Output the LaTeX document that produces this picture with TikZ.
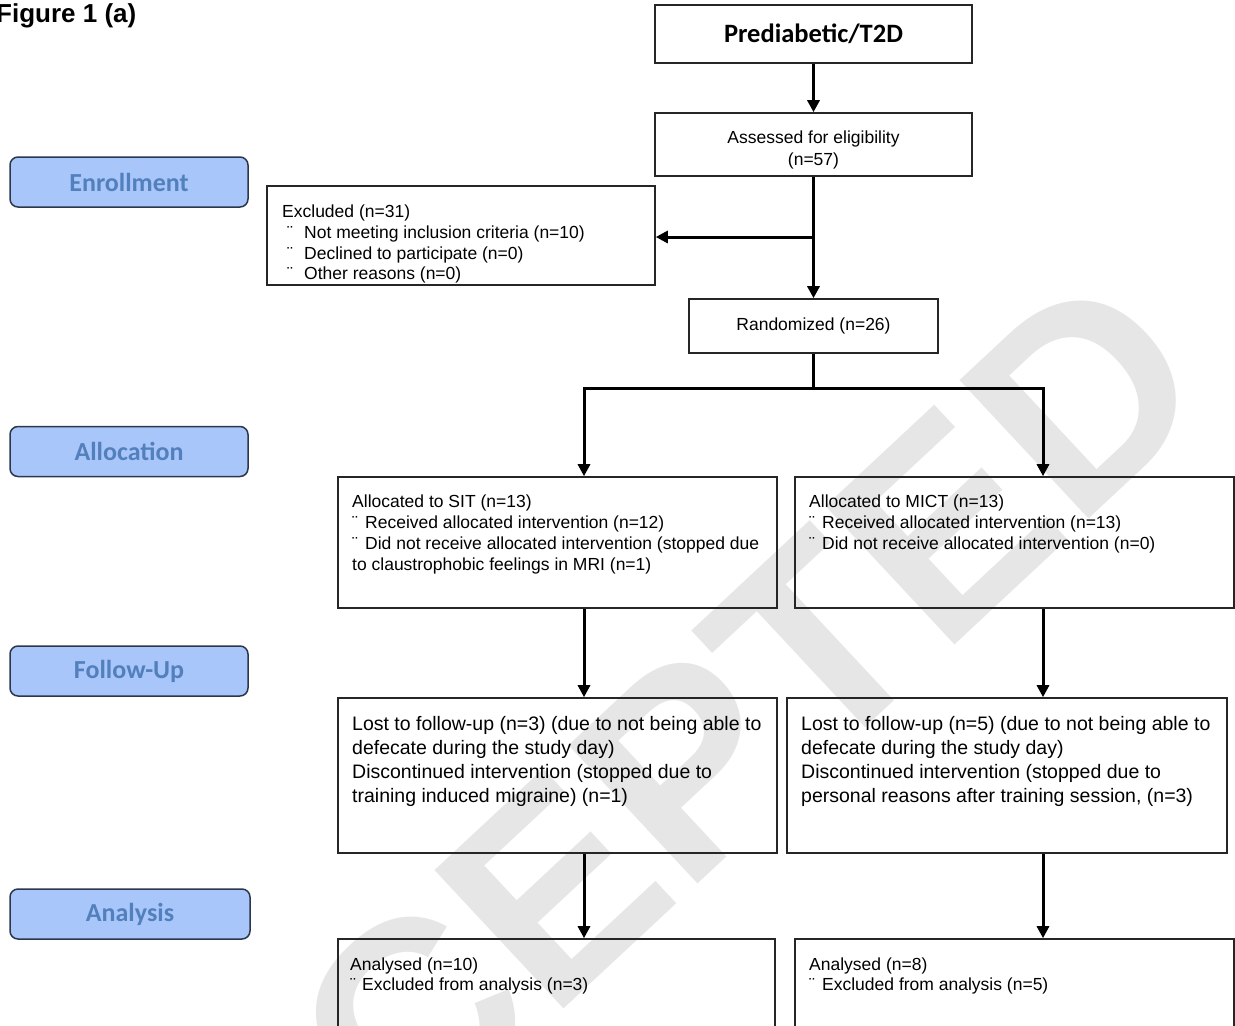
\documentclass[tikz,border=0pt]{standalone}
\usepackage{fontspec}
\setmainfont{Liberation Sans}
\newfontfamily\calib{Carlito}
\usetikzlibrary{arrows.meta}
\definecolor{lblfill}{RGB}{168,198,250}
\definecolor{lbltext}{RGB}{82,128,188}
\definecolor{lbldraw}{RGB}{45,55,75}
\definecolor{wmgray}{RGB}{230,230,230}
\begin{document}
\begin{tikzpicture}[x=1pt,y=-1pt,
  box/.style={draw=black!85, line width=1.6pt, inner sep=0pt},
  lbl/.style={draw=lbldraw, line width=1.5pt, fill=lblfill, rounded corners=8pt, minimum width=238pt, minimum height=50pt, font=\calib\bfseries\fontsize{26}{30}\selectfont, text=lbltext, inner sep=0pt},
  body/.style={font=\fontsize{17.5}{21}\selectfont, align=left, inner sep=0pt, anchor=north west},
  bigbody/.style={body, font=\fontsize{19.5}{24}\selectfont},
  arr/.style={line width=3pt, -{Triangle[length=12pt,width=12pt]}},
  ln/.style={line width=3pt},
  wmark/.style={font=\bfseries\fontsize{275}{275}\selectfont, text=wmgray, rotate=43, inner sep=0pt}
]
\useasboundingbox (0,0) rectangle (1235,1026);
\clip (0,0) rectangle (1235,1026);
\fill[white] (0,0) rectangle (1235,1026);
\node[wmark] (wmk) at (603,843) {ACCEPTED};

\node[anchor=base west, font=\bfseries\fontsize{26}{30}\selectfont, inner sep=0pt] (fig) at (-4,22) {Figure 1 (a)};

% main boxes
\node[box, minimum width=317pt, minimum height=58pt, font=\calib\bfseries\fontsize{26.5}{30}\selectfont] (pre) at (813.5,34) {Prediabetic/T2D};
\node[box, minimum width=317pt, minimum height=63pt] (ass) at (813.5,144.5) {};
\node[body, align=center, anchor=north, font=\fontsize{17.5}{22}\selectfont] (assT) at (813.5,131) {Assessed for eligibility\\(n=57)};

\node[box, minimum width=388pt, minimum height=99pt] (exc) at (461,235.5) {};
\node[body, font=\fontsize{17.5}{20.7}\selectfont] (excT) at (282,205) {Excluded (n=31)\\\hspace*{5pt}\makebox[17pt][l]{¨}Not meeting inclusion criteria (n=10)\\\hspace*{5pt}\makebox[17pt][l]{¨}Declined to participate (n=0)\\\hspace*{5pt}\makebox[17pt][l]{¨}Other reasons (n=0)};

\node[box, minimum width=249pt, minimum height=54pt, font=\fontsize{17.5}{21}\selectfont] (rnd) at (813.5,326) {Randomized (n=26)};

\node[box, minimum width=439pt, minimum height=131pt] (sit) at (557.5,542.5) {};
\node[body] (sitT) at (352,495) {Allocated to SIT (n=13)\\\makebox[13pt][l]{¨}Received allocated intervention (n=12)\\\makebox[13pt][l]{¨}Did not receive allocated intervention (stopped due\\to claustrophobic feelings in MRI (n=1)};

\node[box, minimum width=439pt, minimum height=131pt] (mict) at (1014.5,542.5) {};
\node[body] (mictT) at (809,495) {Allocated to MICT (n=13)\\\makebox[13pt][l]{¨}Received allocated intervention (n=13)\\\makebox[13pt][l]{¨}Did not receive allocated intervention (n=0)};

\node[box, minimum width=439pt, minimum height=155pt] (fl) at (557.5,775.5) {};
\node[bigbody] (flT) at (352,716) {Lost to follow-up (n=3) (due to not being able to\\defecate during the study day)\\Discontinued intervention (stopped due to\\training induced migraine) (n=1)};

\node[box, minimum width=440pt, minimum height=155pt] (fr) at (1007,775.5) {};
\node[bigbody] (frT) at (801,716) {Lost to follow-up (n=5) (due to not being able to\\defecate during the study day)\\Discontinued intervention (stopped due to\\personal reasons after training session, (n=3)};

\node[box, minimum width=437pt, minimum height=120pt] (al) at (556.5,999) {};
\node[body, font=\fontsize{17.5}{20}\selectfont] (alT) at (350,958) {Analysed (n=10)\\\makebox[12pt][l]{¨}Excluded from analysis (n=3)};

\node[box, minimum width=439pt, minimum height=120pt] (ar) at (1014.5,999) {};
\node[body, font=\fontsize{17.5}{20}\selectfont] (arT) at (809,958) {Analysed (n=8)\\\makebox[13pt][l]{¨}Excluded from analysis (n=5)};

% stage labels
\node[lbl] (enr) at (129,182) {Enrollment};
\node[lbl] (allo) at (129,451.5) {Allocation};
\node[lbl] (fup) at (129,671) {Follow-Up};
\node[lbl, minimum width=240pt] (ana) at (130,914) {Analysis};

% connectors
\coordinate (br1) at (813.5,237);
\coordinate (br2) at (813.5,388);
\coordinate (lx) at (584,388);
\coordinate (rx) at (1043,388);
\draw[arr] (pre.south) -- (ass.north);
\draw[arr] (ass.south) -- (rnd.north);
\draw[arr] (br1) -- (br1 -| exc.east);
\draw[ln] (rnd.south) -- (br2);
\draw[arr] (br2) -- (lx) -- (lx |- sit.north);
\draw[arr] (br2) -- (rx) -- (rx |- mict.north);
\draw[arr] (lx |- sit.south) -- (lx |- fl.north);
\draw[arr] (rx |- mict.south) -- (rx |- fr.north);
\draw[arr] (lx |- fl.south) -- (lx |- al.north);
\draw[arr] (rx |- fr.south) -- (rx |- ar.north);
\end{tikzpicture}
\end{document}
